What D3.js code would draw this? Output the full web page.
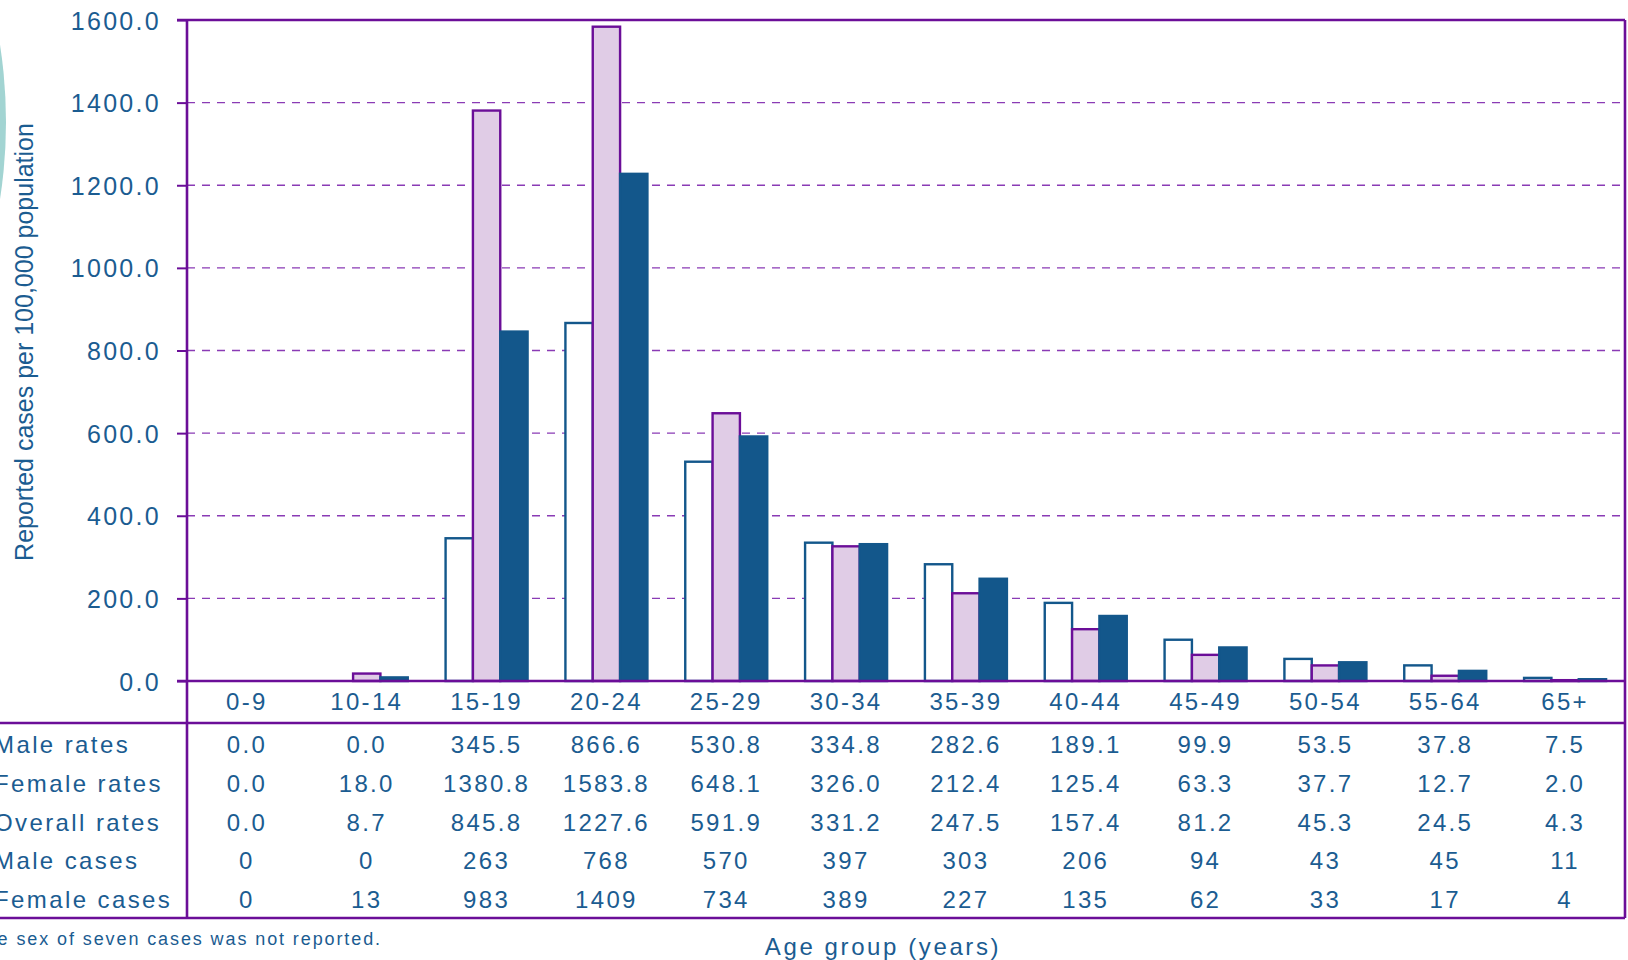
<!DOCTYPE html>
<html>
<head>
<meta charset="utf-8">
<script src="https://cdn.jsdelivr.net/npm/d3@7"></script>
<style>
  body { margin: 0; background: #fff; }
  svg { display: block; font-family: "Liberation Sans", Arial, sans-serif; }
</style>
</head>
<body>
<div id="vis"></div>
<script>
// chart data
const AGE_GROUPS = ["0-9", "10-14", "15-19", "20-24", "25-29", "30-34", "35-39", "40-44", "45-49", "50-54", "55-64", "65+"];
const MALE_RATES = [0.0, 0.0, 345.5, 866.6, 530.8, 334.8, 282.6, 189.1, 99.9, 53.5, 37.8, 7.5];
const FEMALE_RATES = [0.0, 18.0, 1380.8, 1583.8, 648.1, 326.0, 212.4, 125.4, 63.3, 37.7, 12.7, 2.0];
const OVERALL_RATES = [0.0, 8.7, 845.8, 1227.6, 591.9, 331.2, 247.5, 157.4, 81.2, 45.3, 24.5, 4.3];
const MALE_CASES = [0, 0, 263, 768, 570, 397, 303, 206, 94, 43, 45, 11];
const FEMALE_CASES = [0, 13, 983, 1409, 734, 389, 227, 135, 62, 33, 17, 4];
const Y_TICKS = [0, 200, 400, 600, 800, 1000, 1200, 1400, 1600];

const ROW_LABELS = ["Male rates", "Female rates", "Overall rates", "Male cases", "Female cases"];

// frame constants
const FRAME_WIDTH = 1628;
const FRAME_HEIGHT = 960;
const PLOT = {left: 187, right: 1625, top: 20, bottom: 681};
const TABLE_TOP = 723;
const TABLE_BOTTOM = 918;

const PURPLE = "#6b0e98";
const GRID = "#8a3bb5";
const BLUE_TEXT = "#1b5c91";
const DARK_BLUE = "#13578b";
const LILAC = "#e0cce6";

const FRAME = d3.select("#vis")
                .append("svg")
                  .attr("width", FRAME_WIDTH)
                  .attr("height", FRAME_HEIGHT);

// teal decoration poking in at the left edge
FRAME.append("circle")
  .attr("cx", 6 - 500)
  .attr("cy", 122)
  .attr("r", 500)
  .attr("fill", "#a2d4d2");

// scales
const X_SCALE = d3.scaleBand()
                  .domain(AGE_GROUPS)
                  .range([PLOT.left, PLOT.right]);
const Y_SCALE = d3.scaleLinear()
                  .domain([0, 1600])
                  .range([PLOT.bottom, PLOT.top]);
const GROUP_W = 82;
const SUB_SCALE = d3.scaleBand()
                  .domain(["male", "female", "overall"])
                  .range([(X_SCALE.bandwidth() - GROUP_W) / 2, (X_SCALE.bandwidth() + GROUP_W) / 2]);

// dashed gridlines
FRAME.append("g")
  .selectAll("line")
  .data(Y_TICKS.filter((t) => t > 0 && t < 1600))
  .enter()
  .append("line")
    .attr("x1", PLOT.left)
    .attr("x2", PLOT.right)
    .attr("y1", (d) => Y_SCALE(d))
    .attr("y2", (d) => Y_SCALE(d))
    .attr("stroke", GRID)
    .attr("stroke-width", 1.4)
    .attr("stroke-dasharray", "8,7");

// bars
const SERIES = [
  {key: "male", values: MALE_RATES, fill: "#ffffff", stroke: DARK_BLUE},
  {key: "female", values: FEMALE_RATES, fill: LILAC, stroke: PURPLE},
  {key: "overall", values: OVERALL_RATES, fill: DARK_BLUE, stroke: DARK_BLUE}
];

SERIES.forEach((s) => {
  FRAME.append("g")
    .selectAll("rect")
    .data(AGE_GROUPS.map((g, i) => ({group: g, value: s.values[i]})).filter((d) => d.value > 0))
    .enter()
    .append("rect")
      .attr("x", (d) => X_SCALE(d.group) + SUB_SCALE(s.key))
      .attr("y", (d) => Y_SCALE(d.value))
      .attr("width", SUB_SCALE.bandwidth())
      .attr("height", (d) => Y_SCALE(0) - Y_SCALE(d.value))
      .attr("fill", s.fill)
      .attr("stroke", s.stroke)
      .attr("stroke-width", 2.4);
});

// y axis
const yAxis = FRAME.append("g")
  .attr("transform", "translate(" + PLOT.left + ",0)")
  .call(d3.axisLeft(Y_SCALE).tickValues(Y_TICKS).tickFormat(d3.format(".1f")).tickSize(10).tickPadding(16));
yAxis.select(".domain").remove();
yAxis.selectAll(".tick line").attr("stroke", PURPLE).attr("stroke-width", 2);
yAxis.selectAll(".tick text")
  .attr("fill", BLUE_TEXT)
  .attr("font-size", "25px")
  .attr("letter-spacing", "2.3px")
  .attr("dy", "0.36em");

// frame lines
const LINES = [
  [PLOT.left, PLOT.top, PLOT.left, TABLE_BOTTOM],
  [PLOT.right, PLOT.top, PLOT.right, TABLE_BOTTOM],
  [PLOT.left - 10, PLOT.top, PLOT.right, PLOT.top],
  [PLOT.left - 10, PLOT.bottom, PLOT.right, PLOT.bottom],
  [0, TABLE_TOP, PLOT.right, TABLE_TOP],
  [0, TABLE_BOTTOM, PLOT.right, TABLE_BOTTOM]
];
FRAME.append("g")
  .selectAll("line")
  .data(LINES)
  .enter()
  .append("line")
    .attr("x1", (d) => d[0]).attr("y1", (d) => d[1])
    .attr("x2", (d) => d[2]).attr("y2", (d) => d[3])
    .attr("stroke", PURPLE)
    .attr("stroke-width", 2.6);

// category labels
FRAME.append("g")
  .selectAll("text")
  .data(AGE_GROUPS)
  .enter()
  .append("text")
    .attr("x", (d) => X_SCALE(d) + X_SCALE.bandwidth() / 2)
    .attr("y", 710)
    .attr("text-anchor", "middle")
    .attr("fill", BLUE_TEXT)
    .attr("font-size", "24px")
    .attr("letter-spacing", "2.3px")
    .text((d) => d);

// data table
const fmt1 = d3.format(".1f");
const ROWS = [
  MALE_RATES.map(fmt1),
  FEMALE_RATES.map(fmt1),
  OVERALL_RATES.map(fmt1),
  MALE_CASES.map(String),
  FEMALE_CASES.map(String)
];
const ROW_Y = d3.scalePoint().domain(d3.range(5)).range([753, 908]);

ROWS.forEach((row, r) => {
  FRAME.append("text")
    .attr("x", -6)
    .attr("y", ROW_Y(r))
    .attr("fill", BLUE_TEXT)
    .attr("font-size", "24px")
    .attr("letter-spacing", "2.4px")
    .text(ROW_LABELS[r]);

  FRAME.append("g")
    .selectAll("text")
    .data(row)
    .enter()
    .append("text")
      .attr("x", (d, i) => X_SCALE(AGE_GROUPS[i]) + X_SCALE.bandwidth() / 2)
      .attr("y", ROW_Y(r))
      .attr("text-anchor", "middle")
      .attr("fill", BLUE_TEXT)
      .attr("font-size", "24px")
      .attr("letter-spacing", "2.3px")
      .text((d) => d);
});

// axis titles and footnote
FRAME.append("text")
  .attr("transform", "translate(33,342) rotate(-90)")
  .attr("text-anchor", "middle")
  .attr("fill", BLUE_TEXT)
  .attr("font-size", "25px")
  .text("Reported cases per 100,000 population");

FRAME.append("text")
  .attr("x", 883)
  .attr("y", 955)
  .attr("text-anchor", "middle")
  .attr("fill", BLUE_TEXT)
  .attr("font-size", "24px")
  .attr("letter-spacing", "2.6px")
  .text("Age group (years)");

FRAME.append("text")
  .attr("x", 382)
  .attr("y", 945)
  .attr("text-anchor", "end")
  .attr("fill", BLUE_TEXT)
  .attr("font-size", "18px")
  .attr("letter-spacing", "1.9px")
  .text("The sex of seven cases was not reported.");
</script>
</body>
</html>
